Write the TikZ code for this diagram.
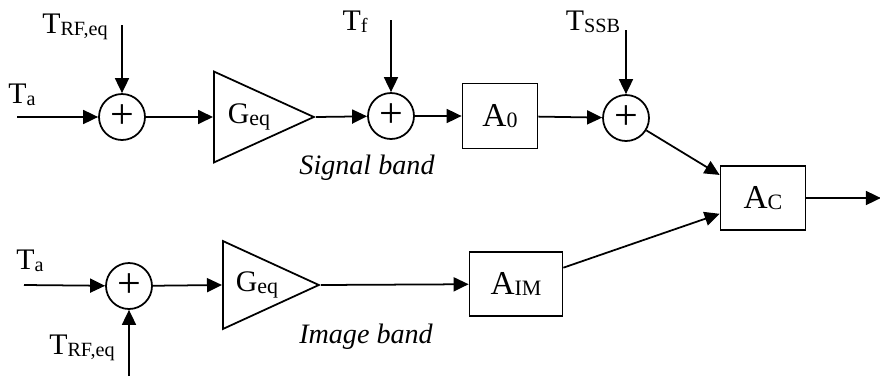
\documentclass[tikz,border=0pt]{standalone}
\usepackage{fontspec}
\setmainfont{Liberation Serif}
\usetikzlibrary{arrows.meta, shapes, backgrounds}
\newcommand{\lo}[1]{\raisebox{-1pt}{\fontsize{11.5}{13}\selectfont #1}}
\newcommand{\blo}[1]{\raisebox{-1pt}{\fontsize{12.5}{14}\selectfont #1}}

\begin{document}
\begin{tikzpicture}[x=0.02cm, y=-0.02cm, font=\fontsize{17}{20}\selectfont,
                    background rectangle/.style={fill=white}, show background rectangle]
\useasboundingbox (0,0) rectangle (880,376);
\begin{scope}[every node/.style={draw,line width=1pt}]
    \node[circle, minimum size=0.92cm, inner sep=0pt] (S1) at (122,117) {\fontsize{24}{24}\selectfont +};
    \node[circle, minimum size=0.92cm, inner sep=0pt] (S2) at (391,116) {\fontsize{24}{24}\selectfont +};
    \node[circle, minimum size=0.92cm, inner sep=0pt] (S3) at (626,118) {\fontsize{24}{24}\selectfont +};
    \node[circle, minimum size=0.92cm, inner sep=0pt] (S4) at (129,286) {\fontsize{24}{24}\selectfont +};
    \node[isosceles triangle, isosceles triangle stretches, inner sep=0pt,
          minimum width=1.82cm, minimum height=2cm, anchor=lower side] (G1) at (213,117) {};
    \node[isosceles triangle, isosceles triangle stretches, inner sep=0pt,
          minimum width=1.76cm, minimum height=1.92cm, anchor=lower side] (G2) at (222,285) {};
    \node[rectangle, minimum width=1.5cm, minimum height=1.3cm, font=\fontsize{19}{22}\selectfont] (A0) at (500,116) {A\blo{0}};
    \node[rectangle, minimum width=1.86cm, minimum height=1.28cm, font=\fontsize{19}{22}\selectfont] (AIM) at (516,284) {A\blo{IM}};
    \node[rectangle, minimum width=1.7cm, minimum height=1.28cm, font=\fontsize{19}{22}\selectfont] (AC) at (763,198) {A\blo{C}};
\end{scope}

% labels
\node (Geq1) at (249,117) {G\blo{eq}};
\node (Geq2) at (257,285) {G\blo{eq}};
\node (Ta1) at (22,95) {T\lo{a}};
\node (Ta2) at (30,261) {T\lo{a}};
\node (Trf1) at (75,27) {T\lo{RF,eq}};
\node (Trf2) at (82,348) {T\lo{RF,eq}};
\node (Tf) at (355,22) {T\lo{f}};
\node (Tssb) at (593,22) {T\lo{SSB}};
\node (sig) at (367,168) {\fontsize{16}{18}\selectfont\itshape Signal band};
\node (img) at (366,337) {\fontsize{16}{18}\selectfont\itshape Image band};

\coordinate (in1) at (17,117);
\coordinate (in2) at (24,285);
\coordinate (rf1) at (122,25);
\coordinate (rf2) at (129,376);
\coordinate (f1) at (391,20);
\coordinate (ssb) at (626,30);
\path (AC.east) ++(74.5,0) coordinate (out);

\begin{scope}[>={Triangle[length=0.3cm,width=0.28cm]},
              every edge/.style={draw=black, line width=1pt}]
    \path [->] (in1) edge (S1);
    \path [->] (rf1) edge (S1);
    \path [->] (S1) edge (G1.lower side);
    \path [->] (G1.apex) edge (S2);
    \path [->] (f1) edge (S2);
    \path [->] (S2) edge (A0);
    \path [->] (A0) edge (S3);
    \path [->] (ssb) edge (S3);
    \path [->] (S3) edge (AC.152);
    \path [->] (in2) edge (S4);
    \path [->] (rf2) edge (S4);
    \path [->] (S4) edge (G2.lower side);
    \path [->] (G2.apex) edge (AIM);
    \path [->] (AIM) edge (AC.200);
    \path [->] (AC) edge (out);
\end{scope}

\end{tikzpicture}
\end{document}
